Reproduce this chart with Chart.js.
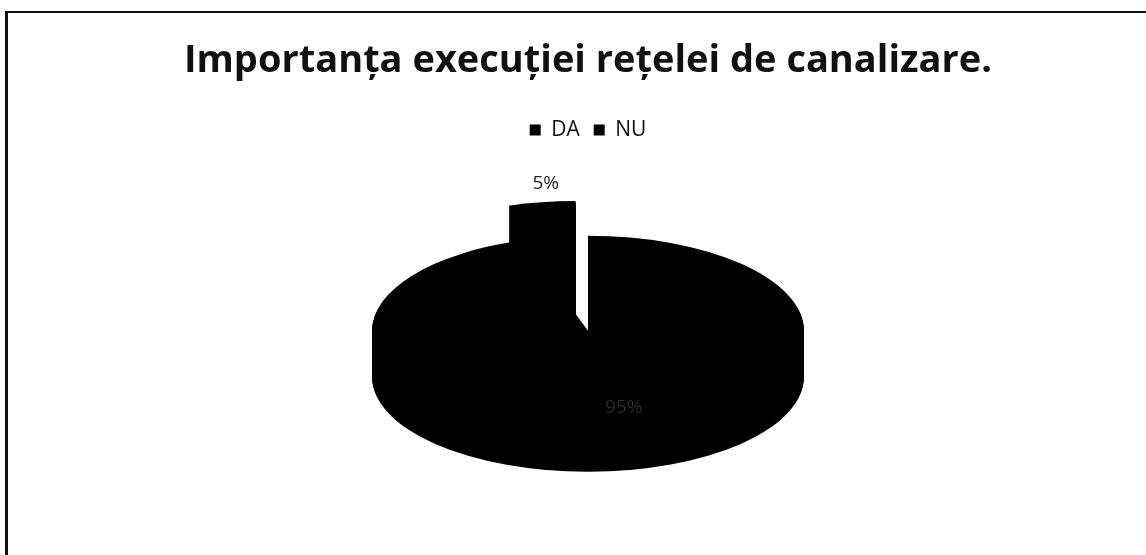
<!DOCTYPE html>
<html>
<head>
<meta charset="utf-8">
<script src="https://cdn.jsdelivr.net/npm/chart.js@4.4.1/dist/chart.umd.min.js"></script>
<style>
  html, body { margin: 0; padding: 0; background: #fff; }
  #frame {
    position: absolute; left: 5px; top: 11px; right: -10px; bottom: -10px;
    border-left: 3px solid #111; border-top: 2px solid #111;
  }
  #chart { position: absolute; left: 0; top: 0; }
</style>
</head>
<body>
<div id="frame"></div>
<canvas id="chart" width="1146" height="555"></canvas>
<script>
const chartTitle = "Importanța execuției rețelei de canalizare.";
const categories = ["DA", "NU"];
const shares = [95, 5];

// fake 3D pie: squash the pie vertically and stack copies downwards for the side
const pie3d = {
    id: "pie3d",
    beforeDatasetsDraw(chart, args, opts) {
        const ctx = chart.ctx;
        const arcs = chart.getDatasetMeta(0).data;

        const drawSlice = (a, drop) => {
            const p = a.getProps(["x", "y", "startAngle", "endAngle", "outerRadius"]);
            const mid = (p.startAngle + p.endAngle) / 2;
            const off = a.options.offset || 0;
            const cx = p.x + Math.cos(mid) * off;
            const cy = p.y + Math.sin(mid) * off;
            ctx.save();
            ctx.translate(0, p.y + drop);
            ctx.scale(1, opts.tilt);
            ctx.translate(0, -p.y);
            ctx.beginPath();
            ctx.moveTo(cx, cy);
            ctx.arc(cx, cy, p.outerRadius, p.startAngle, p.endAngle);
            ctx.closePath();
            ctx.fillStyle = a.options.backgroundColor;
            ctx.fill();
            ctx.restore();
        };

        for (let d = opts.depth; d > 0; d--) {
            arcs.forEach((a) => drawSlice(a, d));
        }
        arcs.forEach((a) => drawSlice(a, 0));
        return false;
    },
    afterDraw(chart, args, opts) {
        const ctx = chart.ctx;
        const arcs = chart.getDatasetMeta(0).data;
        ctx.save();
        ctx.textAlign = "center";
        ctx.textBaseline = "middle";
        ctx.font = "19px 'Open Sans'";
        arcs.forEach((a, i) => {
            const p = a.getProps(["x", "y", "startAngle", "endAngle", "outerRadius"]);
            const mid = (p.startAngle + p.endAngle) / 2;
            const off = a.options.offset || 0;
            let lx, ly;
            if (off > 0) {
                // outside end, above the exploded slice
                const r = p.outerRadius + off;
                lx = p.x + Math.cos(mid) * r + 4;
                ly = p.y + Math.sin(mid) * r * opts.tilt - 19;
                ctx.fillStyle = "#222";
            } else {
                const r = p.outerRadius * 0.82;
                lx = p.x + Math.cos(mid) * r + 8;
                ly = p.y + Math.sin(mid) * r * opts.tilt;
                ctx.fillStyle = "#2a2a2a"; // barely visible on the black slice
            }
            ctx.fillText(shares[i] + "%", lx, ly);
        });
        ctx.restore();
    },
};

new Chart(document.getElementById("chart"), {
    type: "pie",
    data: {
        labels: categories,
        datasets: [
            {
                data: shares,
                backgroundColor: ["#000000", "#000000"],
                borderWidth: 0,
                offset: [0, 80],
                radius: 216,
                clip: false,
            },
        ],
    },
    options: {
        responsive: false,
        animation: false,
        events: [],
        layout: {
            padding: { left: 30, right: 0, top: 0, bottom: 44 },
        },
        plugins: {
            title: {
                display: true,
                text: chartTitle,
                color: "#111",
                font: { family: "'Open Sans'", size: 38, weight: "bold" },
                padding: { top: 38, bottom: 22 },
            },
            legend: {
                position: "top",
                labels: {
                    color: "#111",
                    font: { family: "'Open Sans'", size: 21 },
                    boxWidth: 11,
                    boxHeight: 11,
                    padding: 14,
                },
            },
            tooltip: { enabled: false },
            pie3d: { tilt: 0.44, depth: 46 },
        },
    },
    plugins: [pie3d],
});
</script>
</body>
</html>
